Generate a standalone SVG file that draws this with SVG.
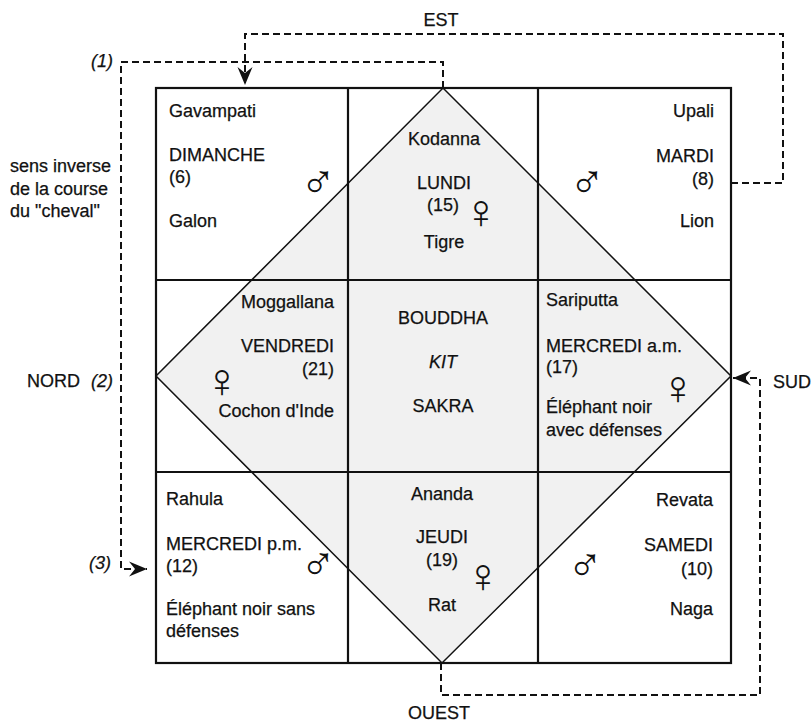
<svg xmlns="http://www.w3.org/2000/svg" width="811" height="722" viewBox="0 0 811 722">
<style>
text{font-family:"Liberation Sans",Arial,sans-serif;font-size:18px;fill:#111;stroke:#111;stroke-width:0.25}
.it{font-style:italic}
.m{text-anchor:middle}
.e{text-anchor:end}
.sym{font-family:"DejaVu Sans",sans-serif;font-weight:200;font-size:48px;text-anchor:middle;stroke:none}
.grid{fill:none;stroke:#111;stroke-width:2.2}
.dia{fill:none;stroke:#111;stroke-width:1.5}
.dash{fill:none;stroke:#111;stroke-width:2;stroke-dasharray:7 4}
</style>
<defs>
<marker id="arr" markerUnits="userSpaceOnUse" markerWidth="20" markerHeight="16" refX="19" refY="8" orient="auto" overflow="visible">
<path d="M19,8 L1,0.5 L7,8 L1,15.5 Z" fill="#111"/>
</marker>
</defs>
<rect width="811" height="722" fill="#fff"/>
<polygon points="443,88 731,376 442,663 156,376" fill="#f1f1f1"/>
<g id="grid">
<rect class="grid" x="156" y="88" width="575" height="575"/>
<line class="grid" x1="348" y1="88" x2="348" y2="663"/>
<line class="grid" x1="538" y1="88" x2="538" y2="663"/>
<line class="grid" x1="156" y1="280" x2="731" y2="280"/>
<line class="grid" x1="156" y1="472" x2="731" y2="472"/>
<polygon class="dia" points="443,88 731,376 442,663 156,376"/>
</g>
<g id="connectors">
<path class="dash" d="M731,183 H783 V34 H245 V85" marker-end="url(#arr)"/>
<path class="dash" d="M443,88 V62 H121 V569 H147" marker-end="url(#arr)"/>
<path class="dash" d="M441,663 V695 H760 V378 H733" marker-end="url(#arr)"/>
</g>
<g id="labels">
<text x="441" y="26" class="m">EST</text>
<text x="439" y="719" class="m">OUEST</text>
<text x="773" y="388">SUD</text>
<text x="27" y="387">NORD</text>
<text x="113" y="387" class="it e">(2)</text>
<text x="113" y="67" class="it e">(1)</text>
<text x="111" y="569" class="it e">(3)</text>
<text x="10" y="172">sens inverse</text>
<text x="10" y="195">de la course</text>
<text x="10" y="217">du "cheval"</text>
</g>
<g id="cell-gavampati">
<text x="169" y="117">Gavampati</text>
<text x="169" y="161">DIMANCHE</text>
<text x="169" y="183">(6)</text>
<text x="169" y="227">Galon</text>
<text x="318" y="198" class="sym">♂</text>
</g>
<g id="cell-kodanna">
<text x="444" y="145" class="m">Kodanna</text>
<text x="444" y="189" class="m">LUNDI</text>
<text x="443" y="211" class="m">(15)</text>
<text x="444" y="248" class="m">Tigre</text>
<text x="481" y="228" class="sym">♀</text>
</g>
<g id="cell-upali">
<text x="714" y="117" class="e">Upali</text>
<text x="714" y="162" class="e">MARDI</text>
<text x="714" y="185" class="e">(8)</text>
<text x="714" y="227" class="e">Lion</text>
<text x="587" y="198" class="sym">♂</text>
</g>
<g id="cell-moggallana">
<text x="334" y="308" class="e">Moggallana</text>
<text x="334" y="352" class="e">VENDREDI</text>
<text x="334" y="375" class="e">(21)</text>
<text x="334" y="417" class="e">Cochon d'Inde</text>
<text x="222" y="397" class="sym">♀</text>
</g>
<g id="cell-bouddha">
<text x="443" y="324" class="m">BOUDDHA</text>
<text x="443" y="368" class="m it">KIT</text>
<text x="443" y="412" class="m">SAKRA</text>
</g>
<g id="cell-sariputta">
<text x="546" y="306">Sariputta</text>
<text x="546" y="352">MERCREDI a.m.</text>
<text x="546" y="373">(17)</text>
<text x="546" y="413">Éléphant noir</text>
<text x="546" y="436">avec défenses</text>
<text x="678" y="404" class="sym">♀</text>
</g>
<g id="cell-rahula">
<text x="166" y="505">Rahula</text>
<text x="166" y="550">MERCREDI p.m.</text>
<text x="166" y="572">(12)</text>
<text x="166" y="615">Éléphant noir sans</text>
<text x="166" y="637">défenses</text>
<text x="318" y="580" class="sym">♂</text>
</g>
<g id="cell-ananda">
<text x="442" y="500" class="m">Ananda</text>
<text x="442" y="543" class="m">JEUDI</text>
<text x="442" y="566" class="m">(19)</text>
<text x="442" y="611" class="m">Rat</text>
<text x="483" y="592" class="sym">♀</text>
</g>
<g id="cell-revata">
<text x="713" y="506" class="e">Revata</text>
<text x="713" y="551" class="e">SAMEDI</text>
<text x="713" y="575" class="e">(10)</text>
<text x="713" y="615" class="e">Naga</text>
<text x="585" y="581" class="sym">♂</text>
</g>
</svg>
